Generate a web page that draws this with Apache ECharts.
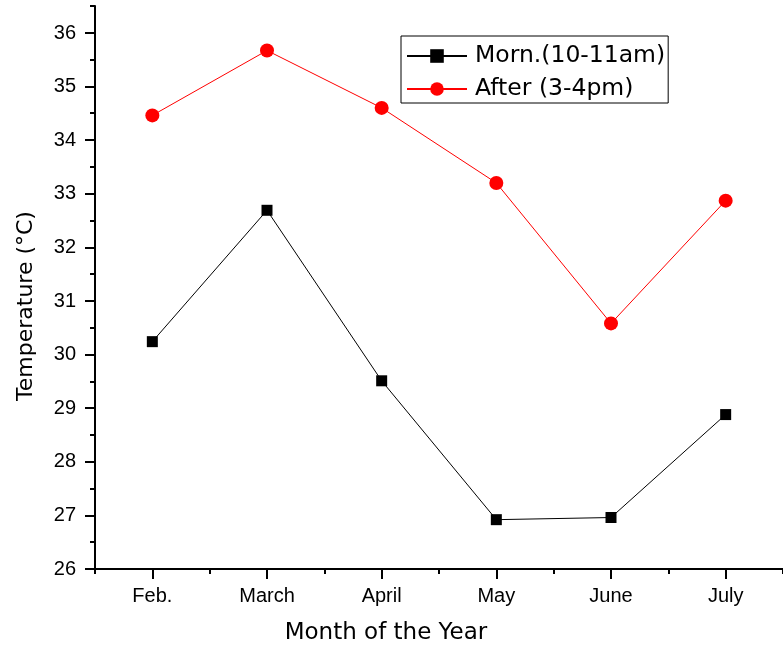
<!DOCTYPE html>
<html>
<head>
<meta charset="utf-8">
<script src="https://cdn.jsdelivr.net/npm/echarts@6/dist/echarts.min.js"></script>
<style>
html,body{margin:0;padding:0;background:#fff;}
#chart{width:783px;height:663px;}
</style>
</head>
<body>
<div id="chart"></div>
<script>
var months = ['Feb.', 'March', 'April', 'May', 'June', 'July'];
var morning = [30.24, 32.69, 29.51, 26.92, 26.96, 28.88];
var afternoon = [34.46, 35.67, 34.60, 33.20, 30.58, 32.87];
var seriesNames = ['Morn.(10-11am)', 'After (3-4pm)'];
var xTitle = 'Month of the Year';
var yTitle = 'Temperature (°C)';

var chart = echarts.init(document.getElementById('chart'), null, {renderer: 'canvas'});
var font = 'Liberation Sans, Arial, sans-serif';
var wideFont = 'DejaVu Sans, Liberation Sans, sans-serif';
var option = {
  backgroundColor: '#fff',
  animation: false,
  grid: [
    {left: 95, width: 691, top: 6, height: 563},
    {left: 95, width: 691, top: 33, height: 536}
  ],
  xAxis: [
    {
      gridIndex: 0, type: 'category', data: months, boundaryGap: true,
      axisLine: {show: true, onZero: false, lineStyle: {color: '#000', width: 2}},
      axisTick: {show: true, length: 5, lineStyle: {color: '#000', width: 2}},
      axisLabel: {show: false}, splitLine: {show: false}
    },
    {
      gridIndex: 1, type: 'category', data: months, boundaryGap: true,
      axisLine: {show: false, onZero: false},
      axisTick: {show: true, alignWithLabel: true, length: 10, lineStyle: {color: '#000', width: 2}},
      axisLabel: {show: true, color: '#000', fontSize: 20, fontFamily: font, margin: 17},
      splitLine: {show: false}
    }
  ],
  yAxis: [
    {
      gridIndex: 0, type: 'value', min: 26, max: 36.5, interval: 0.5,
      axisLine: {show: true, onZero: false, lineStyle: {color: '#000', width: 2}},
      axisTick: {show: true, length: 5, lineStyle: {color: '#000', width: 2}},
      axisLabel: {show: false}, splitLine: {show: false}
    },
    {
      gridIndex: 1, type: 'value', min: 26, max: 36, interval: 1,
      axisLine: {show: false, onZero: false},
      axisTick: {show: true, length: 10, lineStyle: {color: '#000', width: 2}},
      axisLabel: {show: true, color: '#000', fontSize: 20, fontFamily: font, margin: 19},
      splitLine: {show: false}
    }
  ],
  legend: {
    orient: 'vertical', left: 401, top: 36,
    padding: [8, 3, 2, 5], itemGap: 9,
    itemWidth: 60, itemHeight: 17,
    borderColor: '#000', borderWidth: 1,
    textStyle: {color: '#000', fontSize: 23.5, fontFamily: wideFont, padding: [0, 0, 0, 3]},
    data: seriesNames
  },
  graphic: [
    {
      type: 'text', x: 26, y: 306, rotation: Math.PI / 2,
      style: {text: yTitle, fill: '#000', font: '22px ' + wideFont, textAlign: 'center', textVerticalAlign: 'middle'}
    },
    {
      type: 'text', x: 386, y: 633,
      style: {text: xTitle, fill: '#000', font: '23px ' + wideFont, textAlign: 'center', textVerticalAlign: 'middle'}
    }
  ],
  series: [
    {
      name: seriesNames[0], type: 'line', xAxisIndex: 0, yAxisIndex: 0,
      data: morning, symbol: 'rect', symbolSize: 11,
      lineStyle: {color: '#000', width: 1}, itemStyle: {color: '#000'}
    },
    {
      name: seriesNames[1], type: 'line', xAxisIndex: 0, yAxisIndex: 0,
      data: afternoon, symbol: 'circle', symbolSize: 14,
      lineStyle: {color: '#ff0000', width: 1}, itemStyle: {color: '#ff0000'}
    }
  ]
};
chart.setOption(option);
</script>
</body>
</html>
